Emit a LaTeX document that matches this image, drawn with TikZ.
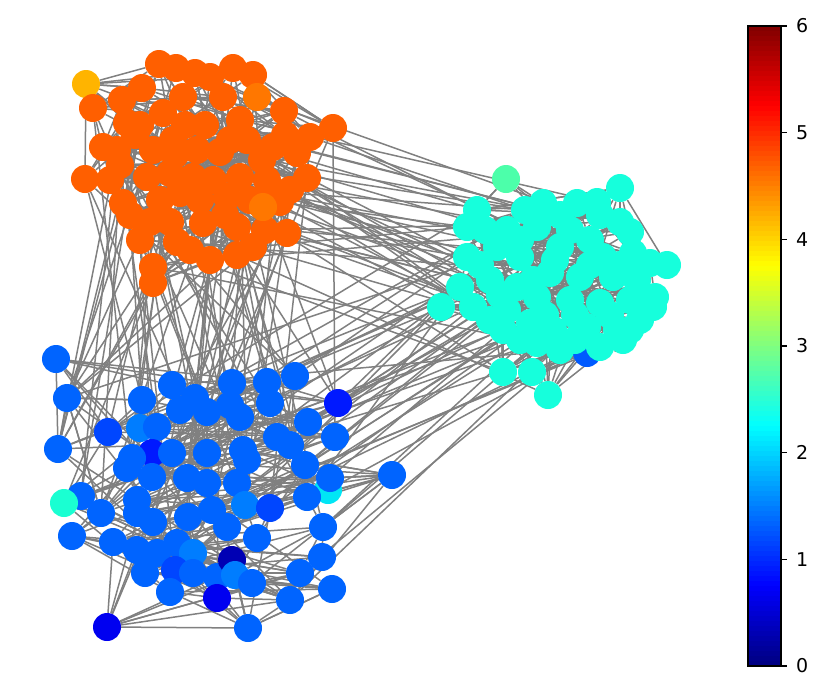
\documentclass[tikz,border=0pt]{standalone}
\usepackage{fontspec}
\setmainfont{DejaVu Sans}
\pgfdeclarelayer{edges}
\pgfsetlayers{edges,main}
\definecolor{O}{RGB}{255,95,0}
\definecolor{OY}{RGB}{255,180,0}
\definecolor{OL}{RGB}{255,119,0}
\definecolor{C}{RGB}{22,255,220}
\definecolor{CG}{RGB}{76,255,170}
\definecolor{CB}{RGB}{0,90,255}
\definecolor{B}{RGB}{0,100,255}
\definecolor{Bd}{RGB}{0,70,255}
\definecolor{Bdd}{RGB}{0,25,255}
\definecolor{BL}{RGB}{0,125,255}
\definecolor{Bn}{RGB}{0,0,180}
\definecolor{Bv}{RGB}{0,0,240}
\definecolor{Cl}{RGB}{0,230,245}
\definecolor{CG2}{RGB}{26,255,210}
\definecolor{edgegray}{RGB}{128,128,128}
\tikzset{
  nd/.style={circle,inner sep=0pt,minimum size=28pt},
  edge/.style={draw=edgegray,line width=1.5pt},
  ticklabel/.style={anchor=west,font=\fontsize{19}{19}\selectfont,inner sep=0pt}
}
\begin{document}
\begin{tikzpicture}[x=1pt,y=-1pt]
\useasboundingbox (0,0) rectangle (830,699);
% orange community
\foreach \x/\y/\c [count=\i] in {140/125/O,185/125/O,230/140/O,285/135/O,290/190/O,200/200/O,250/200/O,130/215/O,
190/250/O,265/230/O,225/215/O,175/155/O,120/165/O,
86/84/OY,159/64/O,176/68/O,195/73/O,210/77/O,233/68/O,253/75/O,257/97/OL,
93/108/O,122/100/O,142/88/O,163/113/O,183/97/O,223/97/O,284/111/O,333/128/O,310/137/O,240/120/O,
127/123/O,103/147/O,117/150/O,85/179/O,110/180/O,153/150/O,173/140/O,197/150/O,220/152/O,247/140/O,
273/147/O,297/153/O,307/178/O,123/203/O,147/177/O,170/173/O,193/177/O,213/180/O,240/177/O,267/180/O,
280/202/O,263/207/OL,150/222/O,170/222/O,203/223/O,237/227/O,253/247/O,287/233/O,140/240/O,177/242/O,
210/260/O,237/255/O,153/267/O,153/283/O,135/135/O,227/197/O,180/193/O,205/125/O,262/160/O,160/200/O}
  \node[nd,fill=\c] (o\i) at (\x,\y) {};
% cyan community
\foreach \x/\y/\c [count=\i] in {587/353/CB,485/230/C,520/240/C,555/260/C,590/265/C,620/265/C,480/265/C,500/295/C,
545/315/C,575/315/C,610/315/C,640/320/C,520/340/C,575/340/C,640/265/C,600/215/C,560/215/C,525/210/C,490/320/C,
506/179/CG,620/188/C,477/210/C,543/203/C,577/203/C,597/202/C,620/222/C,
630/232/C,467/227/C,507/230/C,537/227/C,570/230/C,590/240/C,467/257/C,497/247/C,520/257/C,560/247/C,
603/257/C,633/253/C,650/263/C,667/265/C,460/287/C,490/280/C,533/280/C,550/273/C,580/277/C,613/277/C,
637/280/C,655/297/C,441/307/C,473/307/C,507/310/C,537/297/C,570/300/C,600/303/C,630/300/C,653/307/C,
503/330/C,530/323/C,553/330/C,587/327/C,617/330/C,630/330/C,600/347/C,623/340/C,537/343/C,560/350/C,
503/372/C,532/372/C,548/395/C,517/287/C}
  \node[nd,fill=\c] (c\i) at (\x,\y) {};
% blue community
\foreach \x/\y/\c [count=\i] in {56/359/B,67/398/B,58/449/B,81/496/B,64/503/CG2,101/513/B,72/536/B,108/432/Bd,
142/400/B,172/385/B,195/398/B,232/383/B,267/382/B,295/376/B,338/403/Bdd,308/422/B,335/437/B,140/428/BL,
157/427/B,180/410/B,207/412/B,230/405/B,240/417/B,270/403/B,277/437/B,290/445/B,152/453/Bdd,132/458/B,
172/453/B,207/453/B,243/450/B,247/460/B,127/468/B,152/477/B,187/478/B,207/483/B,237/483/B,305/465/B,
328/490/Cl,330/478/B,307/497/B,392/475/B,137/500/B,137/513/B,153/522/B,188/517/B,212/510/B,245/505/BL,
270/508/Bd,227/527/B,257/538/B,323/527/B,113/542/B,137/550/B,157/553/B,177/543/B,193/553/BL,145/573/B,
175/570/Bd,193/573/B,217/577/B,232/560/Bn,235/575/BL,252/583/B,300/573/B,322/557/B,332/589/B,290/600/B,
170/592/B,217/598/Bv,107/627/Bv,248/628/B}
  \node[nd,fill=\c] (b\i) at (\x,\y) {};
% edges
\begin{pgfonlayer}{edges}
\pgfmathsetseed{4242}
\foreach \i in {1,...,71}{
  \foreach \k in {1,...,4}{
    \pgfmathrandominteger{\rr}{-14}{14}
    \pgfmathtruncatemacro\rs{ifthenelse(\rr==0,1,\rr)}
    \pgfmathtruncatemacro\jj{mod(\i-1+\rs+71,71)+1}
    \draw[edge] (o\i) -- (o\jj);
  }}
\foreach \i in {1,...,70}{
  \foreach \k in {1,...,4}{
    \pgfmathrandominteger{\rr}{-14}{14}
    \pgfmathtruncatemacro\rs{ifthenelse(\rr==0,1,\rr)}
    \pgfmathtruncatemacro\jj{mod(\i-1+\rs+70,70)+1}
    \draw[edge] (c\i) -- (c\jj);
  }}
\foreach \i in {1,...,72}{
  \foreach \k in {1,...,4}{
    \pgfmathrandominteger{\rr}{-14}{14}
    \pgfmathtruncatemacro\rs{ifthenelse(\rr==0,1,\rr)}
    \pgfmathtruncatemacro\jj{mod(\i-1+\rs+72,72)+1}
    \draw[edge] (b\i) -- (b\jj);
  }}
\foreach \k in {1,...,45}{
  \pgfmathrandominteger{\ra}{1}{71}
  \pgfmathrandominteger{\rb}{1}{70}
  \draw[edge] (o\ra) -- (c\rb);
}
\foreach \k in {1,...,70}{
  \pgfmathrandominteger{\ra}{1}{71}
  \pgfmathrandominteger{\rb}{1}{72}
  \draw[edge] (o\ra) -- (b\rb);
}
\foreach \k in {1,...,45}{
  \pgfmathrandominteger{\ra}{1}{72}
  \pgfmathrandominteger{\rb}{1}{70}
  \draw[edge] (b\ra) -- (c\rb);
}
\draw[edge] (b71) -- (b72);
\draw[edge] (b71) -- (b53);
\draw[edge] (b72) -- (b67);
\draw[edge] (b72) -- (b68);
\draw[edge] (b42) -- (b40);
\draw[edge] (b42) -- (b68);
\draw[edge] (o14) -- (o15);
\draw[edge] (o14) -- (o35);
\draw[edge] (c21) -- (c27);
\draw[edge] (c21) -- (c40);
\end{pgfonlayer}
% colour bar
\foreach \k in {0,...,127}{
  \pgfmathsetmacro\jt{(\k+0.5)/128}
  \pgfmathsetmacro\jr{max(0,min(1,min(4*\jt-1.5,-4*\jt+4.5)))}
  \pgfmathsetmacro\jg{max(0,min(1,min(4*\jt-0.5,-4*\jt+3.5)))}
  \pgfmathsetmacro\jb{max(0,min(1,min(4*\jt+0.5,-4*\jt+2.5)))}
  \definecolor{jetc}{rgb}{\jr,\jg,\jb}
  \fill[jetc] (748,{666-\k*5+0.3}) rectangle (781,{666-(\k+1)*5-0.3});
}
\draw[line width=1.2pt] (748,26) rectangle (781,666);
\foreach \v [count=\i from 0] in {0,1,2,3,4,5,6}{
  \draw[line width=1.2pt] (781,{666-\v*640/6}) -- (787,{666-\v*640/6});
  \node[ticklabel] (t\i) at (796,{666-\v*640/6}) {\v};
}
\end{tikzpicture}
\end{document}
